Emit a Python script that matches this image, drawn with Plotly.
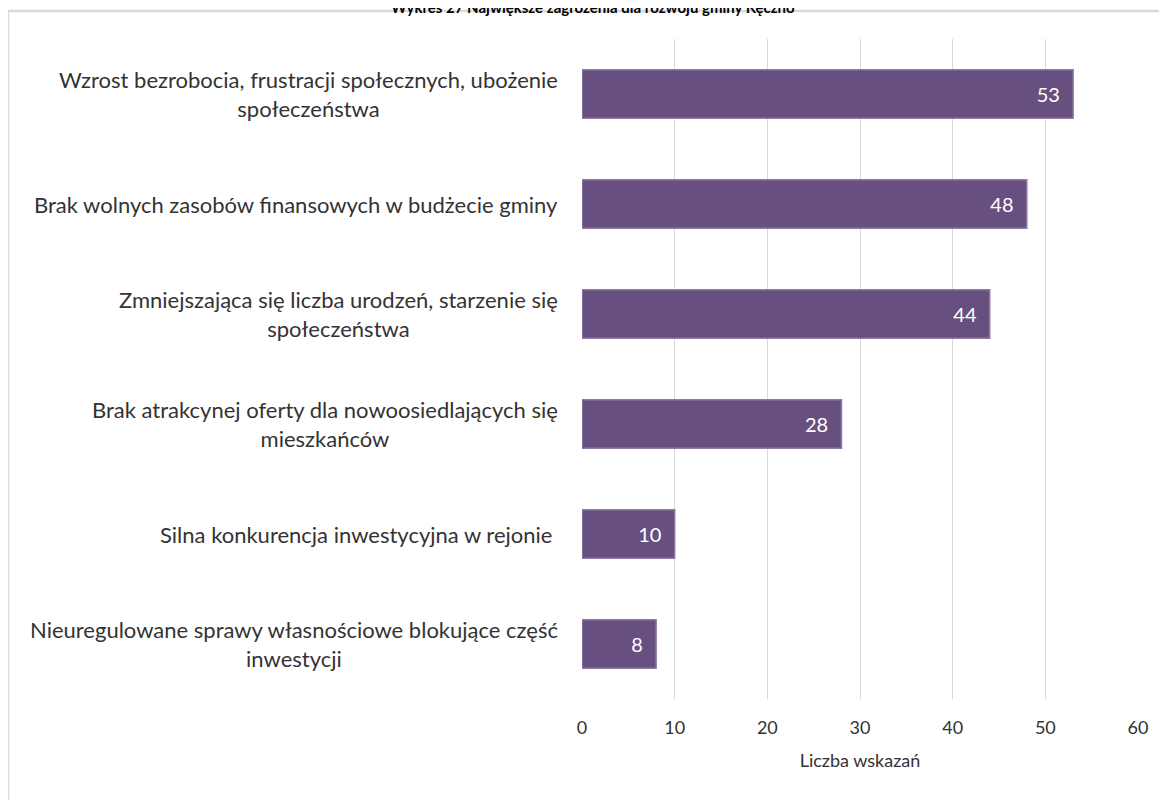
import plotly.graph_objects as go

# chart data (top to bottom as in the reference)
categories = [
    "Wzrost bezrobocia, frustracji społecznych, ubożenie<br>społeczeństwa",
    "Brak wolnych zasobów finansowych w budżecie gminy",
    "Zmniejszająca się liczba urodzeń, starzenie się<br>społeczeństwa",
    "Brak atrakcynej oferty dla nowoosiedlających się<br>mieszkańców",
    "Silna konkurencja inwestycyjna w rejonie ",
    "Nieuregulowane sprawy własnościowe blokujące część<br>inwestycji",
]
values = [53, 48, 44, 28, 10, 8]
x_ticks = [0, 10, 20, 30, 40, 50, 60]

title_text = "Wykres 27 Największe zagrożenia dla rozwoju gminy Kęczno"
x_title = "Liczba wskazań"

font_family = "Lato, 'Open Sans', sans-serif"
text_grey = "#333333"

fig = go.Figure()

# main horizontal bars
fig.add_trace(go.Bar(
    y=categories, x=values, orientation="h",
    marker=dict(color="#67507f", line=dict(color="#8e78a6", width=1.5)),
    texttemplate="%{x}\u00a0\u00a0", textposition="inside",
    insidetextanchor="end",
    textfont=dict(color="white", size=20, family=font_family),
    width=0.44, hoverinfo="x+y",
))

# category labels as centred annotations (Excel style wrapping)
for cat in categories:
    fig.add_annotation(
        x=0, y=cat, xref="x", yref="y", text=cat, showarrow=False,
        xanchor="right", xshift=-22, align="center",
        font=dict(size=22, color=text_grey, family=font_family),
    )

# title sits at the very top, partly cut off as in the reference
fig.add_annotation(
    x=0.02, y=1 + 32 / 660, xref="paper", yref="paper",
    text=f"<b>{title_text}</b>", showarrow=False,
    xanchor="center", yanchor="middle",
    font=dict(size=15, color="black", family=font_family),
)

# outer chart frame
fig.add_shape(type="rect", xref="paper", yref="paper",
              x0=-1.0324, x1=1.2, y0=-0.3, y1=1.0424,
              line=dict(color="#d9d9d9", width=2.5), layer="below")

fig.update_layout(
    width=1167, height=800,
    margin=dict(l=574, r=37, t=31, b=109),
    paper_bgcolor="white", plot_bgcolor="white",
    showlegend=False,
    font=dict(family=font_family, color=text_grey),
)

fig.update_xaxes(
    range=[0, 60], tickvals=x_ticks, showgrid=True, gridcolor="#d9d9d9",
    gridwidth=1, zeroline=False, showline=False, ticks="",
    tickfont=dict(size=18, color=text_grey), ticklabelstandoff=16,
    title=dict(text=x_title, font=dict(size=18, color=text_grey), standoff=17),
)
fig.update_yaxes(
    autorange="reversed", showticklabels=False, showgrid=False,
    zeroline=False, showline=False, ticks="",
)

fig.write_html("out.html")
